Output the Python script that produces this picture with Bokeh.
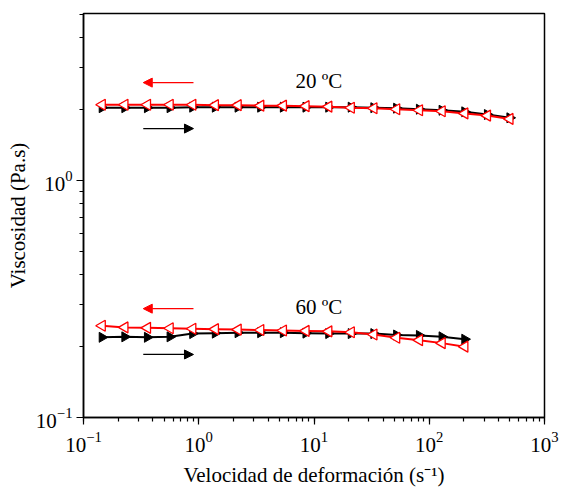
from bokeh.plotting import figure
from bokeh.models import Arrow, NormalHead, Label, LogTicker, FixedTicker, Range1d
from bokeh.embed import file_html
from bokeh.resources import INLINE

# Shear rates (s^-1) of the sweep
shear_rate = [0.145, 0.228, 0.358, 0.563, 0.885, 1.39, 2.19, 3.44, 5.41, 8.5,
              13.4, 21.0, 33.0, 52.0, 82.0, 129.0, 203.0, 319.0, 500.0]

# 20 °C: upward (black) and downward (red) sweeps, viscosity in Pa.s
visc_20_up = [2.03, 2.03, 2.03, 2.03, 2.04, 2.04, 2.04, 2.04, 2.04, 2.04,
              2.04, 2.04, 2.03, 2.02, 2.00, 1.98, 1.95, 1.90, 1.84]
visc_20_down = [2.09, 2.09, 2.09, 2.09, 2.09, 2.08, 2.08, 2.07, 2.07, 2.06,
                2.05, 2.03, 2.02, 2.00, 1.98, 1.96, 1.92, 1.88, 1.82]

# 60 °C: sweeps end at ~200 s^-1
shear_rate_60 = shear_rate[:17]
visc_60_up = [0.218, 0.219, 0.218, 0.219, 0.226, 0.227, 0.228, 0.228, 0.228,
              0.227, 0.226, 0.226, 0.226, 0.223, 0.222, 0.219, 0.214]
visc_60_down = [0.244, 0.240, 0.239, 0.238, 0.237, 0.236, 0.235, 0.234, 0.233,
                0.232, 0.231, 0.229, 0.224, 0.217, 0.212, 0.206, 0.199]

temp_labels = ["20 ºC", "60 ºC"]

# Viscosity axis ticks (decades and their minor subdivisions)
y_major_ticks = [0.1, 1.0]
y_minor_ticks = [0.2, 0.3, 0.4, 0.5, 0.6, 0.7, 0.8, 0.9, 2.0, 3.0, 4.0, 5.0]

FONT = "Liberation Serif"

p = figure(width=561, height=493, x_axis_type="log", y_axis_type="log",
           x_range=Range1d(0.1, 1000), y_range=Range1d(0.1, 5.07),
           output_backend="svg", toolbar_location=None,
           min_border_left=83, min_border_right=17,
           min_border_top=13, min_border_bottom=76)

p.xgrid.visible = False
p.ygrid.visible = False
p.outline_line_color = "black"
p.outline_line_width = 1.5
p.background_fill_color = "white"
p.border_fill_color = "white"

p.xaxis[0].ticker = LogTicker(num_minor_ticks=10)
p.yaxis[0].ticker = FixedTicker(ticks=y_major_ticks, minor_ticks=y_minor_ticks)

for ax in (p.xaxis[0], p.yaxis[0]):
    ax.axis_line_width = 1.5
    ax.axis_line_color = "black"
    ax.major_tick_line_color = "black"
    ax.minor_tick_line_color = "black"
    ax.major_tick_line_width = 1.2
    ax.minor_tick_line_width = 1.2
    ax.major_tick_in = 0
    ax.major_tick_out = 7
    ax.minor_tick_in = 0
    ax.minor_tick_out = 4
    ax.major_label_text_font = FONT
    ax.major_label_text_font_size = "21px"
    ax.major_label_text_color = "black"
    ax.axis_label_text_font = FONT
    ax.axis_label_text_font_size = "21px"
    ax.axis_label_text_font_style = "normal"
    ax.axis_label_text_color = "black"

p.xaxis.axis_label = "Velocidad de deformación (s⁻¹)"
p.yaxis.axis_label = "Viscosidad (Pa.s)"
p.xaxis.axis_label_standoff = 8
p.yaxis.axis_label_standoff = 3
p.xaxis.major_label_standoff = 7
p.yaxis.major_label_standoff = 4

# Black: increasing shear rate (filled, right-pointing triangles)
for xs, ys in ((shear_rate, visc_20_up), (shear_rate_60, visc_60_up)):
    p.line(xs, ys, line_color="black", line_width=2)
    p.scatter(xs, ys, marker="triangle", angle=-1.5708, size=10,
              fill_color="black", line_color="black", line_width=1)

# Red: decreasing shear rate (open, left-pointing triangles)
for xs, ys in ((shear_rate, visc_20_down), (shear_rate_60, visc_60_down)):
    p.line(xs, ys, line_color="red", line_width=2)
    p.scatter(xs, ys, marker="triangle", angle=1.5708, size=11,
              fill_color="white", line_color="red", line_width=1.3)

# Sweep direction arrows and temperature labels
arrow_x = (0.33, 0.90)
arrow_rows = [(2.59, 1.657, 2.63), (0.288, 0.1845, 0.293)]
for (y_red, y_black, y_text), lab in zip(arrow_rows, temp_labels):
    p.add_layout(Arrow(end=NormalHead(size=9, fill_color="red", line_color="red"),
                       x_start=arrow_x[1], x_end=arrow_x[0],
                       y_start=y_red, y_end=y_red,
                       line_color="red", line_width=1.2))
    p.add_layout(Arrow(end=NormalHead(size=9, fill_color="black", line_color="black"),
                       x_start=arrow_x[0], x_end=arrow_x[1],
                       y_start=y_black, y_end=y_black,
                       line_color="black", line_width=1.2))
    p.add_layout(Label(x=6.9, y=y_text, text=lab, text_font=FONT,
                       text_font_size="21px", text_color="black",
                       text_baseline="middle", text_align="left"))

open("out.html", "w").write(file_html(p, INLINE))
